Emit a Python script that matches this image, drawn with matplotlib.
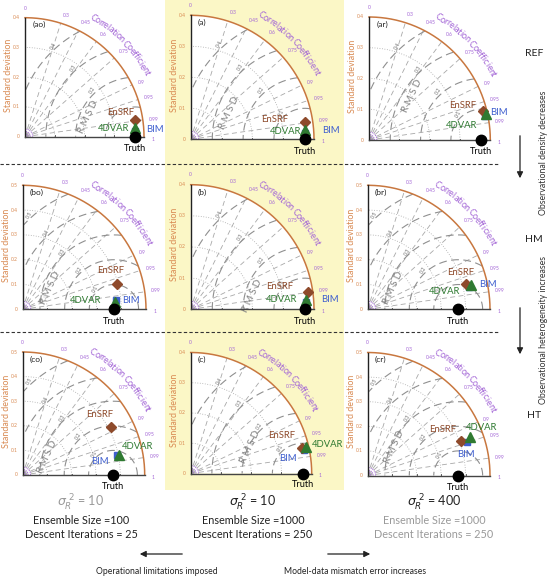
import numpy as np
import matplotlib
matplotlib.use("Agg")
import matplotlib.pyplot as plt
from matplotlib.patches import Rectangle

plt.rcParams["font.family"] = ["Lato", "DejaVu Sans"]

# ======================
# Data
# ======================
panel_labels = ["(ao)", "(a)", "(ar)", "(bo)", "(b)", "(br)", "(co)", "(c)", "(cr)"]
std_axis_max = [0.4, 0.4, 0.4, 0.5, 0.4, 0.5, 0.5, 0.4, 0.5]
truth_std = 0.37

ensrf_std = [0.374, 0.374, 0.389, 0.397, 0.384, 0.414, 0.411, 0.376, 0.406]
ensrf_corr = [0.989, 0.989, 0.970, 0.966, 0.989, 0.970, 0.879, 0.975, 0.940]
fdvar_std = [0.371, 0.371, 0.394, 0.375, 0.375, 0.433, 0.404, 0.391, 0.445]
fdvar_corr = [0.997, 0.997, 0.976, 0.997, 0.997, 0.974, 0.980, 0.974, 0.937]
bim_std = [0.3705, 0.3705, 0.390, 0.380, 0.374, 0.425, 0.394, 0.382, 0.428]
bim_corr = [0.9985, 0.9985, 0.980, 0.995, 0.998, 0.977, 0.978, 0.979, 0.947]

corr_ticks = [0.3, 0.45, 0.6, 0.75, 0.9, 0.95, 0.99]
corr_tick_labels = ["0.3", "0.45", "0.6", "0.75", "0.9", "0.95", "0.99"]

row_names = ["REF", "HM", "HT"]
sigma_texts = [r"$\sigma_{R}^{\ 2}$ = 10", r"$\sigma_{R}^{\ 2}$ = 10", r"$\sigma_{R}^{\ 2}$ = 400"]
ensemble_texts = ["Ensemble Size =100", "Ensemble Size =1000", "Ensemble Size =1000"]
descent_texts = ["Descent Iterations = 25", "Descent Iterations = 250", "Descent Iterations = 250"]

# ======================
# Layout (pixels)
# ======================
W, H = 549, 579
# origin x, origin y, radius x, radius y of each quarter circle
panel_box = [
    (25.0, 136.7, 119.0, 119.0),
    (190.7, 139.3, 123.3, 124.0),
    (369.0, 140.0, 121.3, 123.0),
    (22.7, 309.3, 123.3, 124.0),
    (190.7, 309.3, 123.3, 124.6),
    (367.7, 309.3, 122.3, 124.0),
    (22.7, 475.0, 122.0, 123.0),
    (190.7, 473.5, 121.0, 121.0),
    (367.7, 475.5, 122.3, 123.0),
]
# label positions as fractions of the radius: EnSRF, 4DVAR, BIM
label_pos = [
    [(0.80, 0.20), (0.74, 0.07), (1.09, 0.06)],
    [(0.68, 0.16), (0.77, 0.06), (1.14, 0.07)],
    [(0.77, 0.28), (0.76, 0.12), (1.07, 0.22)],
    [(0.71, 0.31), (0.51, 0.07), (0.88, 0.07)],
    [(0.72, 0.18), (0.74, 0.075), (1.13, 0.075)],
    [(0.76, 0.30), (0.63, 0.14), (0.98, 0.20)],
    [(0.63, 0.49), (0.94, 0.23), (0.63, 0.11)],
    [(0.75, 0.31), (1.13, 0.24), (0.80, 0.12)],
    [(0.61, 0.37), (0.93, 0.39), (0.80, 0.17)],
]
rmsd_text_pos = [(0.53, 0.17), (0.31, 0.21), (0.36, 0.36), (0.22, 0.17), (0.50, 0.11),
                 (0.21, 0.17), (0.20, 0.15), (0.49, 0.22), (0.22, 0.23)]

ARC_COLOR = "#c8773f"
STD_COLOR = "#d98a52"
PURPLE = "#a264d6"
GRID = "#a8a8a8"
RMSD_C = "#8f8f8f"
ENSRF_C = "#8e4a2b"
FDVAR_C = "#2f7a31"
BIM_C = "#3f5fcf"
YELLOW = "#fbf7c6"

fig = plt.figure(figsize=(W / 100, H / 100), dpi=100)
fig.patch.set_facecolor("white")

bg = fig.add_axes([0, 0, 1, 1], zorder=0)
bg.set_xlim(0, W)
bg.set_ylim(H, 0)
bg.axis("off")
bg.add_patch(Rectangle((165, 0), 179, 490, facecolor=YELLOW, edgecolor="none"))
for yy in (164, 332):
    bg.plot([0, 498], [yy, yy], color="#333333", lw=0.8, ls=(0, (3, 2)))


def curved_text(ax, txt, r, a0, a1, **kw):
    narrow = "ilftrI "
    widths = [0.28 if ch in narrow else 0.52 for ch in txt]
    total = sum(widths)
    centers = np.cumsum([0] + widths[:-1]) + np.array(widths) / 2
    for ch, c in zip(txt, centers):
        a = np.deg2rad(a0 - (a0 - a1) * c / total)
        ax.text(r * np.cos(a), r * np.sin(a), ch, rotation=np.rad2deg(a) - 90,
                ha="center", va="center", rotation_mode="anchor", **kw)


def taylor_panel(k):
    ox, oy, rx, ry = panel_box[k]
    ax = fig.add_axes([ox / W, 1 - oy / H, rx / W, ry / H], zorder=2)
    rmax = std_axis_max[k]
    ax.set_xlim(0, rmax)
    ax.set_ylim(0, rmax)
    ax.axis("off")

    th = np.linspace(0, np.pi / 2, 300)
    ax.fill(np.r_[0, rmax * np.cos(th)], np.r_[0, rmax * np.sin(th)],
            color="white", lw=0, zorder=0, clip_on=False)

    # std dotted arcs
    for s in np.arange(0.1, rmax - 1e-6, 0.1):
        ax.plot(s * np.cos(th), s * np.sin(th), ls=(0, (1, 2)), color=GRID, lw=0.6, zorder=1)
    # correlation rays
    for c in corr_ticks:
        a = np.arccos(c)
        ax.plot([0, rmax * np.cos(a)], [0, rmax * np.sin(a)], ls=(0, (6, 4)),
                color=GRID, lw=0.6, zorder=1)

    # RMSD arcs around the truth
    phi = np.linspace(0, np.pi, 500)
    for d in np.arange(0.1, rmax + 1e-6, 0.1):
        x = truth_std + d * np.cos(phi)
        y = d * np.sin(phi)
        bad = (x ** 2 + y ** 2 > rmax ** 2) | (x < 0)
        x = np.where(bad, np.nan, x)
        ax.plot(x, y, ls=(0, (7, 4)), color=RMSD_C, lw=0.8, zorder=1)
        ang = np.deg2rad(132)
        lx, ly = truth_std + (d + 0.012) * np.cos(ang), (d + 0.012) * np.sin(ang)
        if lx > 0.02 and lx ** 2 + ly ** 2 < rmax ** 2:
            ax.text(lx, ly, f"{d:.1f}", fontsize=3.8, color="#707070", rotation=60,
                    ha="center", va="center", zorder=2)
    px, py = rmsd_text_pos[k]
    ax.text(px * rmax, py * rmax, "R M S D", fontsize=7, color="#808080",
            rotation=65, ha="center", va="center", zorder=2)

    # little purple arcs near the origin
    for s in (0.025, 0.045, 0.065):
        ax.plot(s * rmax * np.cos(th), s * rmax * np.sin(th), color=PURPLE,
                lw=0.6, ls=(0, (1.5, 1)), zorder=2)

    # frame
    ax.plot(rmax * np.cos(th), rmax * np.sin(th), color=ARC_COLOR, lw=1.1, zorder=3, clip_on=False)
    ax.plot([0, 0], [0, rmax], color="#222222", lw=1.0, zorder=3, clip_on=False)
    ax.plot([0, rmax], [0, 0], color="#444444", lw=1.0, zorder=3, clip_on=False)
    for s in np.arange(0.1, rmax - 1e-6, 0.1):
        ax.plot([s, s], [0, 0.012 * rmax], color="#444444", lw=0.6, zorder=3)

    # std tick labels
    for s in np.arange(0, rmax + 1e-6, 0.1):
        ax.text(-0.04 * rmax, s, f"{s:.1f}" if s > 0 else "0", fontsize=3.6,
                color=STD_COLOR, ha="right", va="center")
    ax.text(-0.135, 0.52, "Standard deviation", rotation=90, transform=ax.transAxes,
            fontsize=6.4, color=STD_COLOR, ha="center", va="center")

    # correlation labels
    ax.text(0.0, 1.06 * rmax, "0", fontsize=3.6, color=PURPLE, ha="center", va="bottom")
    for c, lab in zip(corr_ticks, corr_tick_labels):
        a = np.arccos(c)
        ax.text(1.05 * rmax * np.cos(a), 1.05 * rmax * np.sin(a), lab, fontsize=3.6,
                color=PURPLE, ha="left", va="bottom" if c < 0.9 else "center")
    ax.text(1.06 * rmax, -0.02 * rmax, "1", fontsize=3.6, color=PURPLE, ha="left", va="center")
    curved_text(ax, "Correlation Coefficient", 1.15 * rmax, 61, 27, fontsize=6.5, color=PURPLE)

    ax.text(0.06 * rmax, 0.94 * rmax, panel_labels[k], fontsize=6, color="#222222",
            ha="left", va="center")

    # markers
    ax.plot([truth_std], [0], "o", color="black", ms=7.5, zorder=6, clip_on=False)
    ax.text(truth_std, -0.095 * rmax, "Truth", fontsize=6.6, ha="center", va="center")

    for sd, cr, mk, col, ms in [
        (bim_std[k], bim_corr[k], "s", BIM_C, 5),
        (ensrf_std[k], ensrf_corr[k], "D", ENSRF_C, 5.5),
        (fdvar_std[k], fdvar_corr[k], "^", FDVAR_C, 6.5),
    ]:
        a = np.arccos(cr)
        ax.plot([sd * np.cos(a)], [sd * np.sin(a)], marker=mk, color=col, ms=ms,
                mec=col, zorder=5, clip_on=False, ls="none")

    (ex, ey), (fx, fy), (bx, by) = label_pos[k]
    ax.text(ex * rmax, ey * rmax, "EnSRF", fontsize=6.8, color=ENSRF_C, ha="center", va="center", zorder=7)
    ax.text(fx * rmax, fy * rmax, "4DVAR", fontsize=6.8, color=FDVAR_C, ha="center", va="center", zorder=7)
    ax.text(bx * rmax, by * rmax, "BIM", fontsize=6.8, color=BIM_C, ha="center", va="center", zorder=7)


for k in range(9):
    taylor_panel(k)

# right side annotations
for name, yy in zip(row_names, (53, 239, 415)):
    bg.text(534, yy, name, fontsize=7.5, ha="center", va="center", color="#222222")
bg.annotate("", xy=(520, 181), xytext=(520, 133),
            arrowprops=dict(arrowstyle="-|>", color="#222222", lw=0.9, mutation_scale=9))
bg.annotate("", xy=(520, 357), xytext=(520, 305),
            arrowprops=dict(arrowstyle="-|>", color="#222222", lw=0.9, mutation_scale=9))
bg.text(544, 153, "Observational density decreases", rotation=90, fontsize=6.3,
        ha="center", va="center", color="#333333")
bg.text(544, 330, "Observational heterogeneity increases", rotation=90, fontsize=6.3,
        ha="center", va="center", color="#333333")

# bottom annotations
col_x = [81, 253, 434]
sigma_col = ["#9a9a9a", "#222222", "#222222"]
setting_col = ["#222222", "#222222", "#9a9a9a"]
for i in range(3):
    bg.text(col_x[i], 503, sigma_texts[i], fontsize=9, ha="center", va="center", color=sigma_col[i])
    bg.text(col_x[i], 521, ensemble_texts[i], fontsize=7.8, ha="center", va="center", color=setting_col[i])
    bg.text(col_x[i], 534, descent_texts[i], fontsize=7.8, ha="center", va="center", color=setting_col[i])

bg.annotate("", xy=(137, 554), xytext=(185, 554),
            arrowprops=dict(arrowstyle="-|>", color="#222222", lw=0.9, mutation_scale=9))
bg.annotate("", xy=(373, 554), xytext=(325, 554),
            arrowprops=dict(arrowstyle="-|>", color="#222222", lw=0.9, mutation_scale=9))
bg.text(157, 572, "Operational limitations imposed", fontsize=6.2, ha="center", va="center", color="#222222")
bg.text(355, 572, "Model-data mismatch error increases", fontsize=6.2, ha="center", va="center", color="#222222")

fig.savefig("out.png", dpi=100)
